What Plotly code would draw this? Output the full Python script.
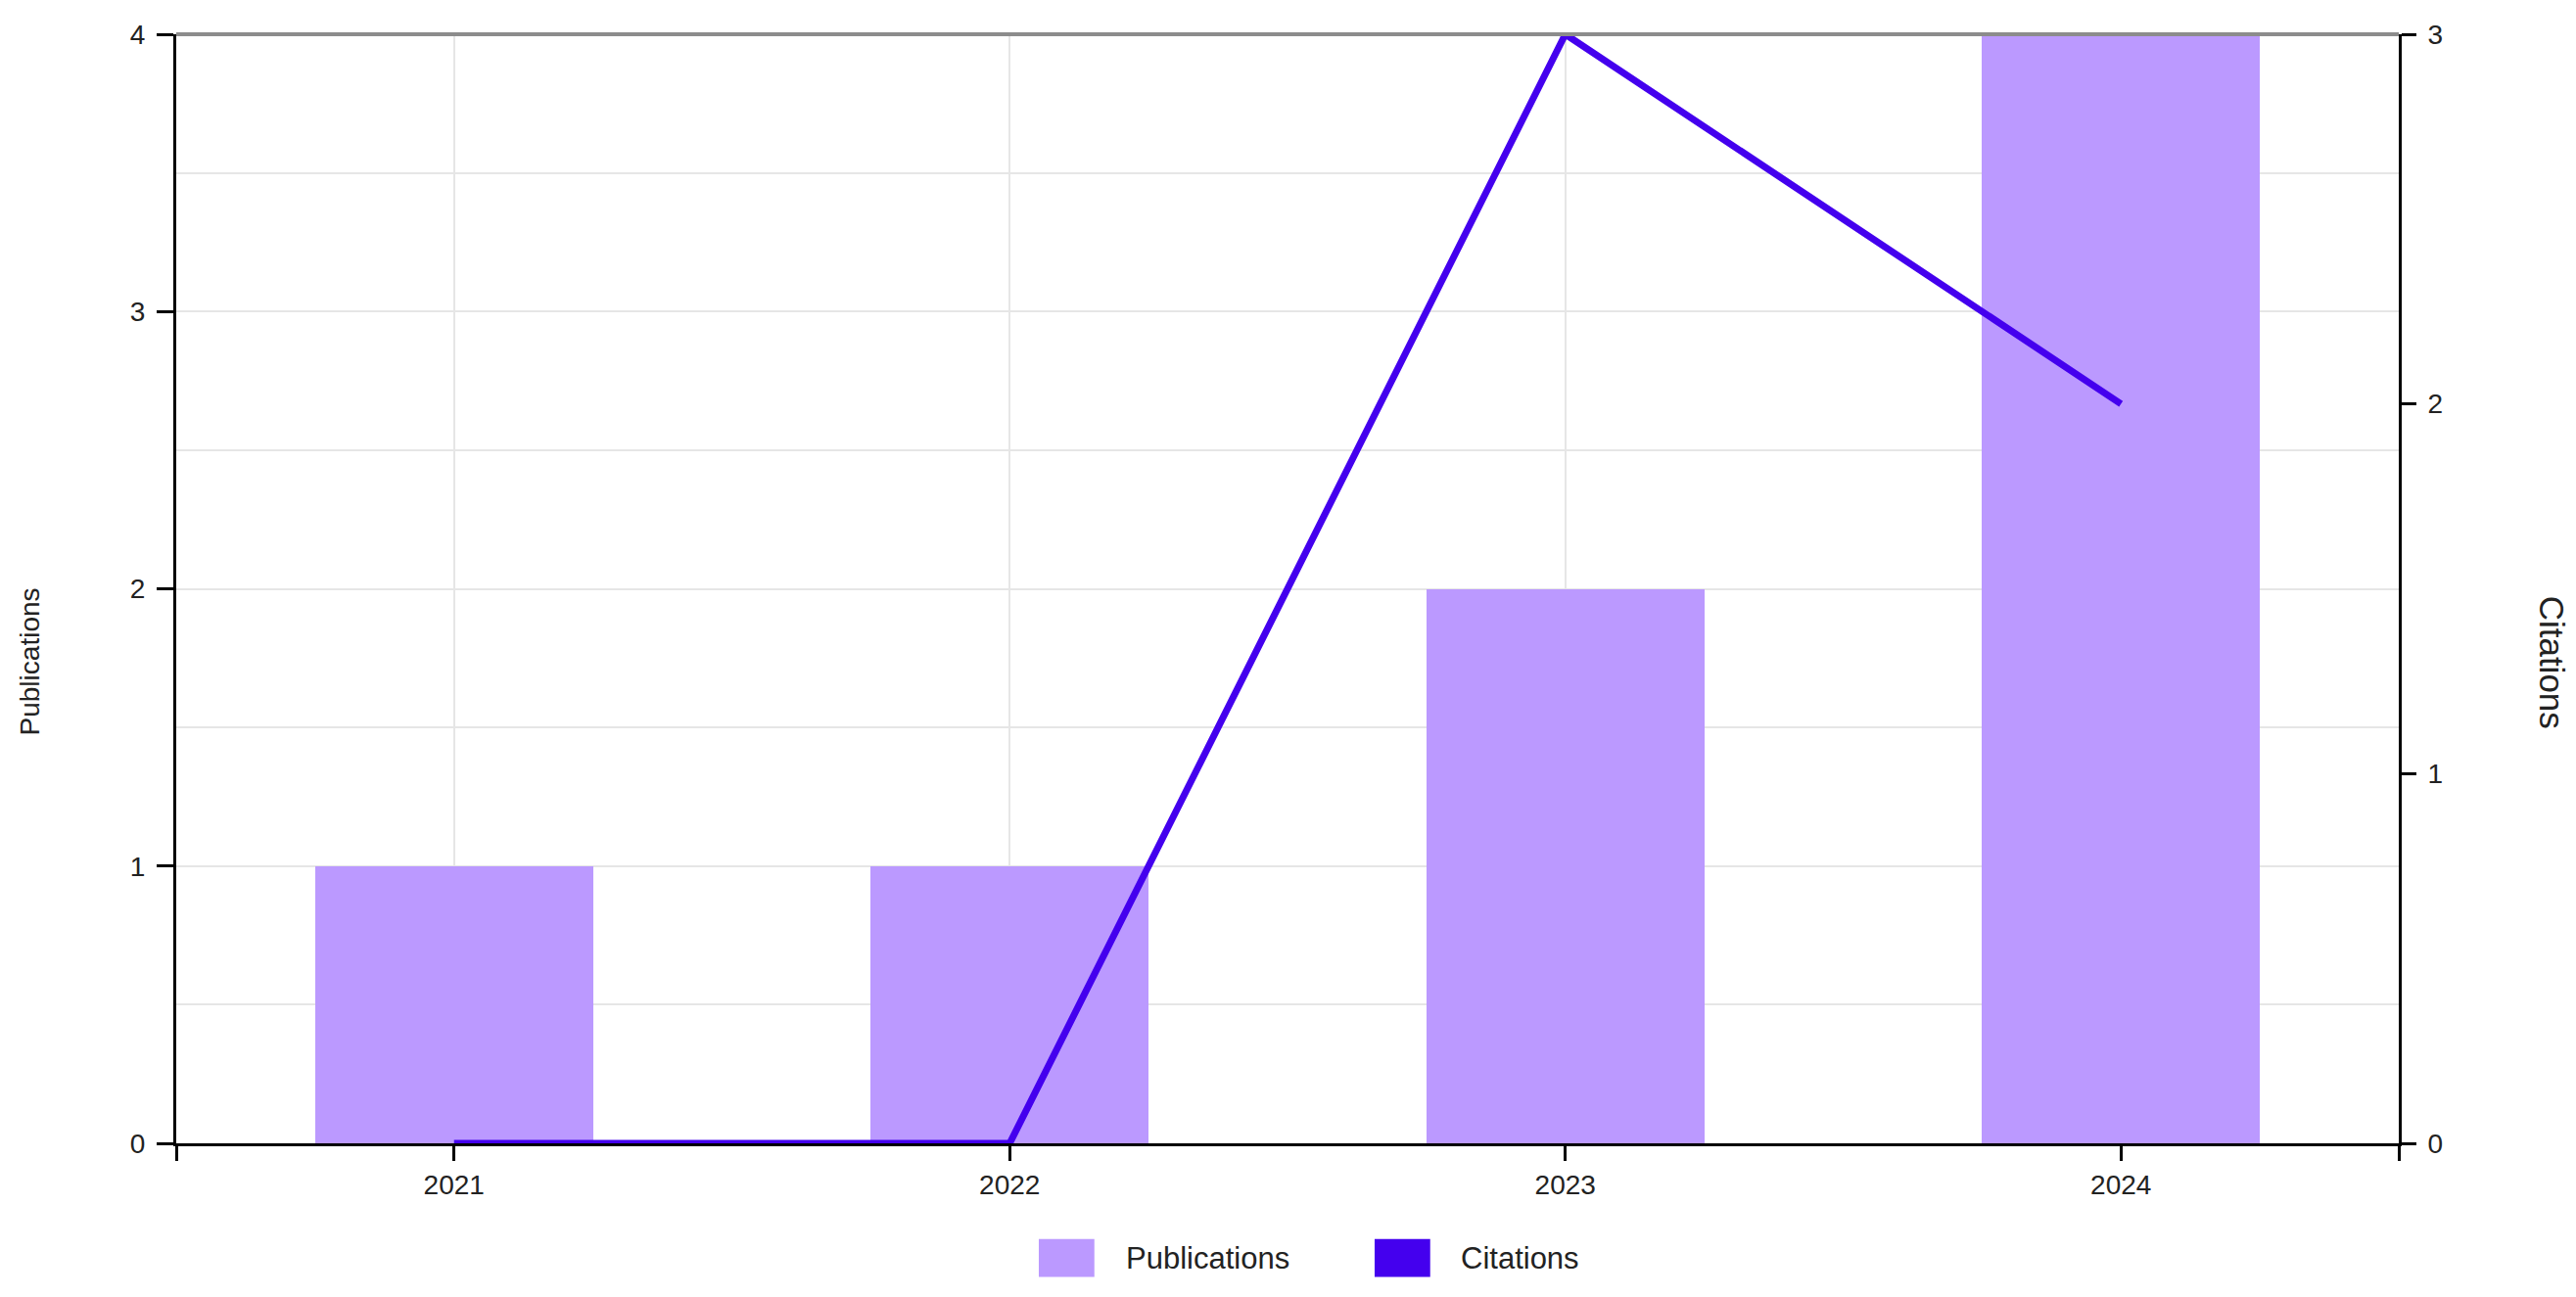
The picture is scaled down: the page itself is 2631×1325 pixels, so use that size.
import plotly.graph_objects as go

# data
years = [2021, 2022, 2023, 2024]
publications = [1, 1, 2, 4]
citations = [0, 0, 3, 2]

pub_ticks = [0, 1, 2, 3, 4]
cit_ticks = [0, 1, 2, 3]

BAR_COLOR = "#bb99ff"
LINE_COLOR = "#4400ee"
FONT = "Liberation Sans, Arial, sans-serif"
TEXT = "#222222"

fig = go.Figure()

fig.add_trace(go.Bar(
    x=years,
    y=publications,
    width=0.5,
    name="Publications",
    marker=dict(color=BAR_COLOR, line=dict(width=0)),
    yaxis="y",
))

fig.add_trace(go.Scatter(
    x=years,
    y=citations,
    mode="lines",
    name="Citations",
    line=dict(color=LINE_COLOR, width=7),
    yaxis="y2",
    cliponaxis=False,
))

# x axis: band-style, outer ticks at the ends
x_tickvals = [years[0] - 0.5] + years + [years[-1] + 0.5]
x_ticktext = [""] + [str(y) for y in years] + [""]

fig.update_layout(
    width=2631,
    height=1325,
    # page body adds an 8px offset
    margin=dict(l=172, r=189, t=24, b=165),
    plot_bgcolor="white",
    paper_bgcolor="white",
    showlegend=False,
    bargap=0,
    font=dict(family=FONT, size=28, color=TEXT),
    xaxis=dict(
        range=[years[0] - 0.5, years[-1] + 0.5],
        tickvals=x_tickvals,
        ticktext=x_ticktext,
        ticks="outside",
        ticklen=15,
        tickwidth=3,
        tickcolor="black",
        showline=True,
        linecolor="black",
        linewidth=3,
        showgrid=True,
        gridcolor="#e6e6e6",
        gridwidth=2,
        zeroline=False,
        layer="below traces",
        tickfont=dict(size=28, color=TEXT),
    ),
    yaxis=dict(
        range=[0, 4],
        tickvals=pub_ticks,
        ticks="outside",
        ticklen=17,
        tickwidth=3,
        tickcolor="black",
        showline=True,
        linecolor="black",
        linewidth=3,
        showgrid=True,
        gridcolor="#e6e6e6",
        gridwidth=2,
        minor=dict(dtick=0.5, showgrid=True, gridcolor="#e6e6e6", gridwidth=2, ticks=""),
        zeroline=False,
        ticklabelstandoff=6,
        tickfont=dict(size=28, color=TEXT),
    ),
    yaxis2=dict(
        range=[0, 3],
        tickvals=cit_ticks,
        overlaying="y",
        side="right",
        ticks="outside",
        ticklen=15,
        tickwidth=3,
        tickcolor="black",
        showline=True,
        linecolor="black",
        linewidth=3,
        showgrid=False,
        zeroline=False,
        ticklabelstandoff=6,
        tickfont=dict(size=28, color=TEXT),
    ),
)

# top border
fig.add_shape(type="line", xref="paper", yref="paper", x0=0, x1=1, y0=1, y1=1,
              line=dict(color="#8c8c8c", width=4), layer="above")

# axis titles
fig.add_annotation(text="Publications", xref="paper", yref="paper", x=-0.066, y=0.434,
                   textangle=-90, showarrow=False, xanchor="center", yanchor="middle",
                   font=dict(size=28, color=TEXT))
fig.add_annotation(text="Citations", xref="paper", yref="paper", x=1.069, y=0.434,
                   textangle=90, showarrow=False, xanchor="center", yanchor="middle",
                   font=dict(size=35, color=TEXT))

# custom legend with large square swatches
legend_items = [("Publications", BAR_COLOR, 0.3881, 0.4264),
                ("Citations", LINE_COLOR, 0.5392, 0.5771)]
for label, color, sx, tx in legend_items:
    fig.add_shape(type="rect", xref="paper", yref="paper",
                  x0=sx, x1=sx + 0.025, y0=-0.1205, y1=-0.0862,
                  fillcolor=color, line=dict(width=0))
    fig.add_annotation(text=label, xref="paper", yref="paper", x=tx, y=-0.1034,
                       showarrow=False, xanchor="left", yanchor="middle",
                       font=dict(size=31, color=TEXT))

fig.write_html("out.html")
